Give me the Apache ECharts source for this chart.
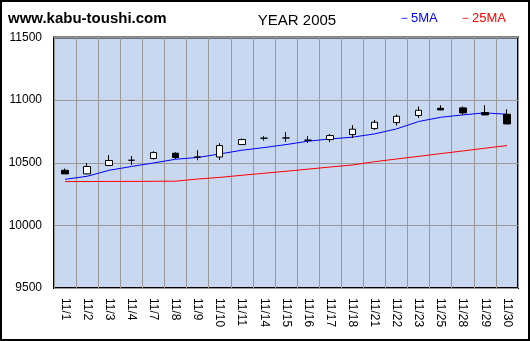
<!DOCTYPE html>
<html>
<head>
<meta charset="utf-8">
<script src="https://cdn.jsdelivr.net/npm/echarts@6/dist/echarts.min.js"></script>
<style>
  html, body { margin: 0; padding: 0; background: #fff; }
  #chart { width: 530px; height: 341px; }
</style>
</head>
<body>
<div id="chart"></div>
<script>
// Trading days, November 2005
const days = ['11/1','11/2','11/3','11/4','11/7','11/8','11/9','11/10','11/11','11/14','11/15',
              '11/16','11/17','11/18','11/21','11/22','11/23','11/25','11/28','11/29','11/30'];

// Daily prices
const opens  = [10440,10411,10478,10520,10534,10576,10546,10546,10645,10696,10698,
                10680,10685,10725,10773,10821,10877,10935,10938,10901,10887];
const closes = [10411,10470,10518,10520,10581,10542,10545,10637,10685,10696,10698,
                10680,10717,10768,10823,10871,10919,10922,10898,10882,10810];
const lows   = [10411,10406,10475,10482,10526,10530,10520,10522,10643,10677,10666,
                10658,10664,10698,10762,10797,10858,10920,10885,10880,10808];
const highs  = [10454,10498,10562,10554,10592,10584,10600,10656,10693,10712,10744,
                10712,10730,10800,10842,10885,10949,10959,10949,10959,10927];

// Moving averages
const ma5  = [10368,10392,10440,10470,10498,10528,10542,10570,10600,10621,10645,
              10672,10690,10704,10730,10770,10829,10863,10882,10898,10887];
const ma25 = [10350,10350,10351,10351,10352,10353,10370,10383,10400,10416,10432,
              10449,10466,10482,10508,10530,10551,10573,10594,10616,10637];

// Price axis ticks
const yTicks = [9500, 10000, 10500, 11000, 11500];

const candles = days.map((d, i) => [opens[i], closes[i], lows[i], highs[i]]);

const chart = echarts.init(document.getElementById('chart'), null, { renderer: 'canvas' });
const font = 'Liberation Sans, Arial, sans-serif';

chart.setOption({
  animation: false,
  backgroundColor: '#ffffff',
  title: {
    text: 'YEAR 2005',
    left: 292, top: 8,
    textAlign: 'center',
    textStyle: { fontFamily: font, fontSize: 15, fontWeight: 'normal', color: '#000' }
  },
  graphic: [
    { type: 'rect', shape: { x: 1, y: 1, width: 528, height: 339 },
      style: { fill: 'none', stroke: '#000', lineWidth: 2 }, silent: true },
    { type: 'text', left: 8, top: 11,
      style: { text: 'www.kabu-toushi.com', font: 'bold 15px ' + font, fill: '#000' } },
    { type: 'text', left: 398, top: 12,
      style: { text: '－5MA', font: '13px ' + font, fill: '#0000ff' } },
    { type: 'text', left: 459, top: 12,
      style: { text: '－25MA', font: '13px ' + font, fill: '#ff0000' } }
  ],
  grid: {
    left: 54, top: 37.5, right: 12, bottom: 53,
    show: true, backgroundColor: '#c8d8f0', borderColor: '#000', borderWidth: 2
  },
  xAxis: {
    type: 'category',
    data: days,
    boundaryGap: true,
    axisLine: { show: false },
    axisTick: { show: false },
    axisLabel: { interval: 0, rotate: -90, margin: 10, fontFamily: font, fontSize: 12, color: '#000' },
    splitLine: { show: true, interval: 0, lineStyle: { color: '#999999', width: 1 } }
  },
  yAxis: {
    type: 'value',
    min: yTicks[0], max: yTicks[yTicks.length - 1], interval: 500,
    axisLine: { show: false },
    axisTick: { show: false },
    axisLabel: { margin: 12, fontFamily: font, fontSize: 12, color: '#000',
                 formatter: v => String(v) },
    splitLine: { show: true, lineStyle: { color: '#999999', width: 1 } }
  },
  series: [
    {
      name: '5MA', type: 'line', data: ma5, showSymbol: false, symbol: 'none',
      lineStyle: { color: '#0000ff', width: 1 }, z: 3
    },
    {
      name: '25MA', type: 'line', data: ma25, showSymbol: false, symbol: 'none',
      lineStyle: { color: '#ff0000', width: 1 }, z: 3
    },
    {
      name: 'price', type: 'candlestick', data: candles, barWidth: 7, z: 4,
      itemStyle: {
        color: '#ffffff', color0: '#000000',
        borderColor: '#000000', borderColor0: '#000000', borderWidth: 1
      }
    }
  ]
});
</script>
</body>
</html>
